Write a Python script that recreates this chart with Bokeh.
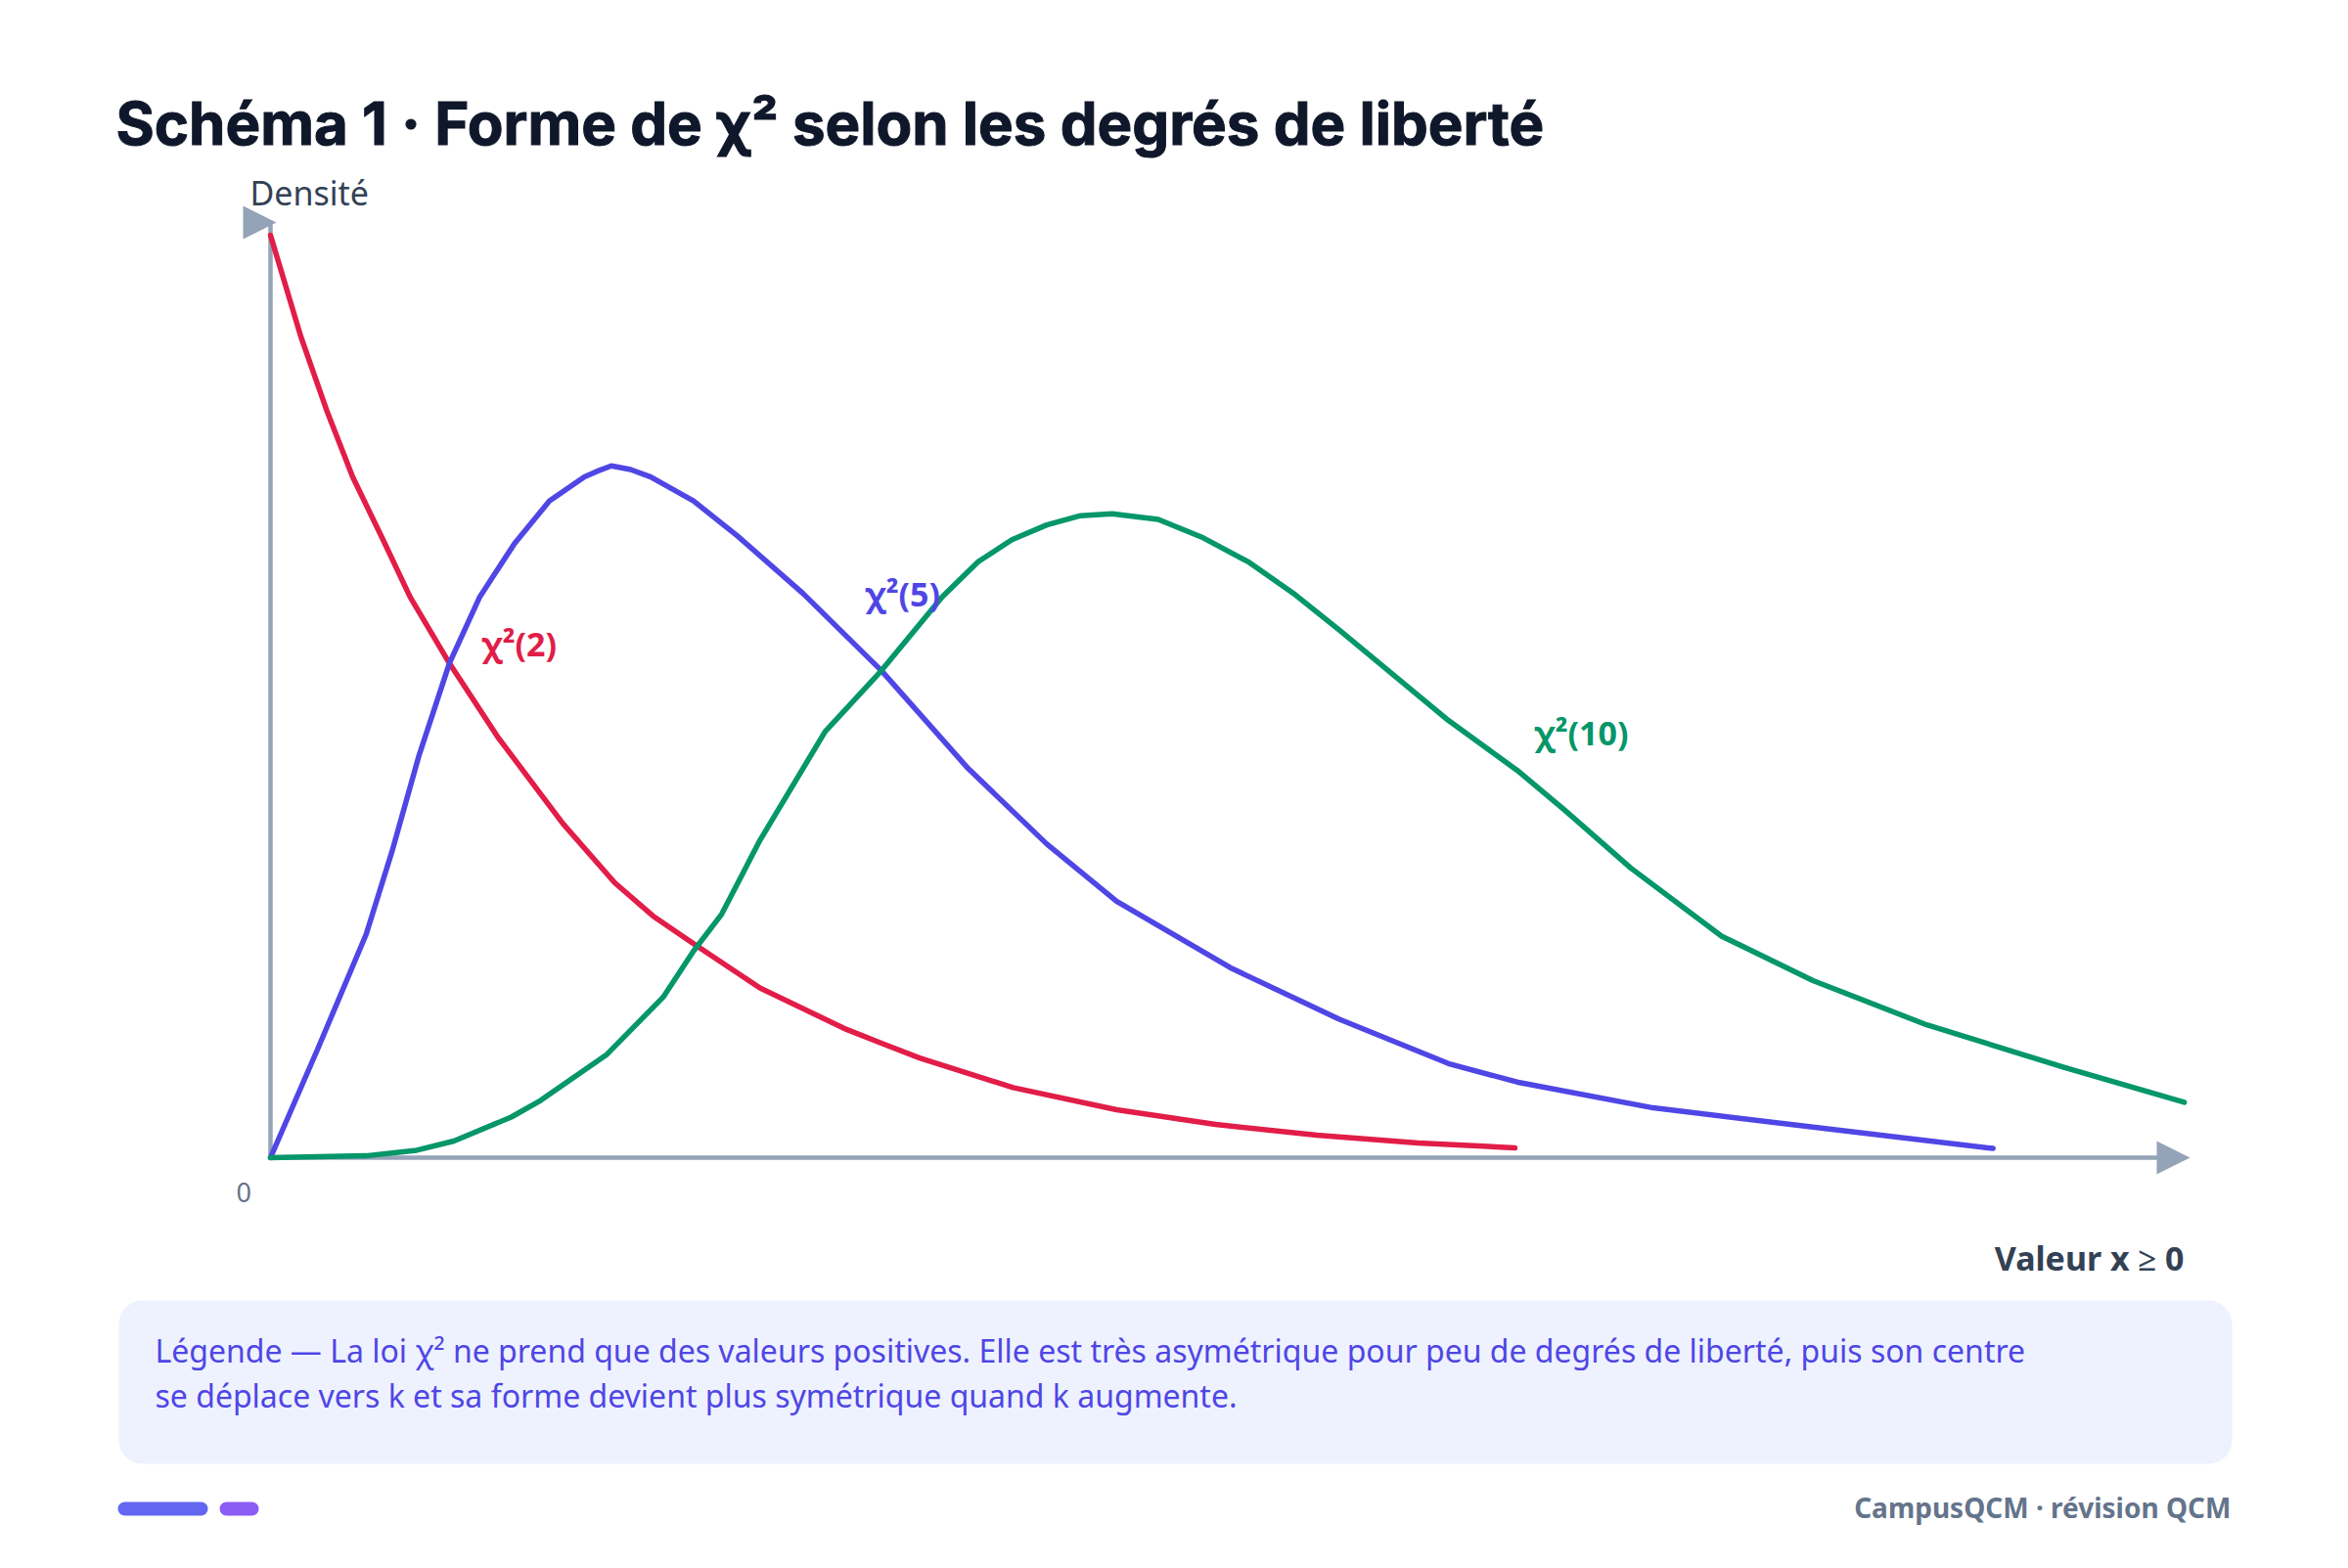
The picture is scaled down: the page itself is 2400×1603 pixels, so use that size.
from bokeh.plotting import figure
from bokeh.models import Range1d, BoxAnnotation
from bokeh.core.properties import value
from bokeh.embed import file_html
from bokeh.resources import INLINE

# densities (x in units of the value axis, y in density units)
chi2_2_x = [0, 0.27, 0.5, 0.73, 1.0, 1.24, 1.59, 2.02, 2.6, 3.06, 3.4, 3.76, 4.35, 5.12,
            5.43, 5.77, 6.6, 7.52, 8.4, 9.3, 10.2, 11.06]
chi2_2_y = [0.5, 0.445, 0.405, 0.369, 0.335, 0.304, 0.268, 0.228, 0.181, 0.149, 0.131, 0.116,
            0.092, 0.0695, 0.062, 0.054, 0.038, 0.026, 0.018, 0.0122, 0.008, 0.0053]

chi2_5_x = [0, 0.42, 0.85, 1.08, 1.32, 1.59, 1.86, 2.17, 2.48, 2.79, 2.9, 3.03, 3.2, 3.38,
            3.76, 4.15, 4.73, 5.43, 6.2, 6.9, 7.52, 8.53, 9.5, 10.47, 11.08, 12.29, 13.51,
            15.31]
chi2_5_y = [0, 0.059, 0.121, 0.166, 0.218, 0.268, 0.304, 0.333, 0.356, 0.369, 0.372, 0.375,
            0.373, 0.369, 0.356, 0.337, 0.306, 0.264, 0.211, 0.170, 0.139, 0.103, 0.075,
            0.051, 0.041, 0.027, 0.018, 0.005]

chi2_10_x = [0, 0.85, 1.3, 1.63, 2.14, 2.4, 2.99, 3.49, 3.76, 4.01, 4.35, 4.93, 5.43, 5.97,
             6.29, 6.59, 6.9, 7.2, 7.48, 7.89, 8.29, 8.69, 9.09, 9.5, 10.47, 11.08, 11.51,
             12.09, 12.9, 13.71, 14.72, 15.94, 17.01]
chi2_10_y = [0, 0.001, 0.004, 0.009, 0.022, 0.031, 0.056, 0.087, 0.112, 0.132, 0.172, 0.231,
             0.264, 0.304, 0.323, 0.335, 0.343, 0.348, 0.349, 0.346, 0.336, 0.323, 0.306,
             0.286, 0.237, 0.210, 0.188, 0.157, 0.120, 0.096, 0.072, 0.049, 0.030]

curve_labels = ["χ²(2)", "χ²(5)", "χ²(10)"]
curve_colors = ["#e11d48", "#4f46e5", "#059669"]

title = "Schéma 1 · Forme de χ² selon les degrés de liberté"
y_label = "Densité"
x_label = "Valeur x ≥ 0"
legend_lines = [
    "Légende — La loi χ² ne prend que des valeurs positives. Elle est très asymétrique pour peu de degrés de liberté, puis son centre",
    "se déplace vers k et sa forme devient plus symétrique quand k augmente.",
]
footer = "CampusQCM · révision QCM"

# page pixel -> data units (origin of the drawn axes at page px 276, 1183)
OX, OY, SX, SY = 276, 1183, 115.0, 1886.0


def dx(X):
    return (X - OX) / SX


def dy(Y):
    return (OY - Y) / SY


W, H = 2384, 1587
p = figure(width=W, height=H, output_backend="svg", toolbar_location=None,
           x_range=Range1d(dx(0), dx(W)), y_range=Range1d(dy(H), dy(0)),
           x_axis_location=None, y_axis_location=None, min_border=0)
p.grid.visible = False
p.outline_line_color = None
p.background_fill_color = "white"

body = value("Noto Sans")
axis_grey = "#94a3b8"

# title (outline in the same colour to get a heavier weight)
p.text(x=[dx(118)], y=[dy(125)], text=[title], text_font=value("Inter"),
       text_font_size="60px", text_font_style="bold", text_color="#0f172a",
       text_outline_color="#0f172a", text_baseline="alphabetic")

# hand drawn axes with arrow heads
p.segment(x0=[0, 0], y0=[0, 0], x1=[dx(2206), 0], y1=[0, dy(229)],
          line_color=axis_grey, line_width=4.5)
p.patches(xs=[[dx(248), dx(248), dx(282)], [dx(2204), dx(2204), dx(2238)]],
          ys=[[dy(210), dy(244), dy(227)], [dy(1166), dy(1200), dy(1183)]],
          fill_color=axis_grey, line_color=None)

p.text(x=[dx(255)], y=[dy(196)], text=[y_label], text_font=body, text_font_size="34px",
       text_color="#334155", text_baseline="alphabetic")
p.text(x=[dx(241)], y=[dy(1218)], text=["0"], text_font=body, text_font_size="27px",
       text_color="#64748b", text_baseline="alphabetic")
p.text(x=[dx(2232)], y=[dy(1285)], text=[x_label], text_font=body, text_font_size="34px",
       text_font_style="bold", text_color="#334155", text_align="right",
       text_baseline="alphabetic")

# curves
for xs, ys, c in zip([chi2_2_x, chi2_5_x, chi2_10_x], [chi2_2_y, chi2_5_y, chi2_10_y], curve_colors):
    p.line(xs, ys, line_color=c, line_width=5.5, line_cap="round", line_join="round")

p.text(x=[dx(492), dx(884), dx(1568)], y=[dy(657), dy(606), dy(748)], text=curve_labels,
       text_font=body, text_font_size="34px", text_font_style="bold",
       text_color=curve_colors, text_baseline="middle")

# caption box
p.add_layout(BoxAnnotation(left=dx(121), right=dx(2281), top=dy(1329), bottom=dy(1496),
                           fill_color="#eef2ff", fill_alpha=1, line_color=None,
                           border_radius=24, level="underlay"))
p.text(x=[dx(158), dx(158)], y=[dy(1380), dy(1426)], text=legend_lines, text_font=body,
       text_font_size="32px", text_color="#4f46e5", text_baseline="alphabetic")

# footer
p.add_layout(BoxAnnotation(left=dx(120), right=dx(212), top=dy(1535), bottom=dy(1549),
                           fill_color="#6366f1", fill_alpha=1, line_color=None, border_radius=7))
p.add_layout(BoxAnnotation(left=dx(224), right=dx(264), top=dy(1535), bottom=dy(1549),
                           fill_color="#8b5cf6", fill_alpha=1, line_color=None, border_radius=7))
p.text(x=[dx(2280)], y=[dy(1540)], text=[footer], text_font=body, text_font_size="28px",
       text_font_style="bold", text_color="#64748b", text_align="right", text_baseline="middle")

open("out.html", "w").write(file_html(p, INLINE))
